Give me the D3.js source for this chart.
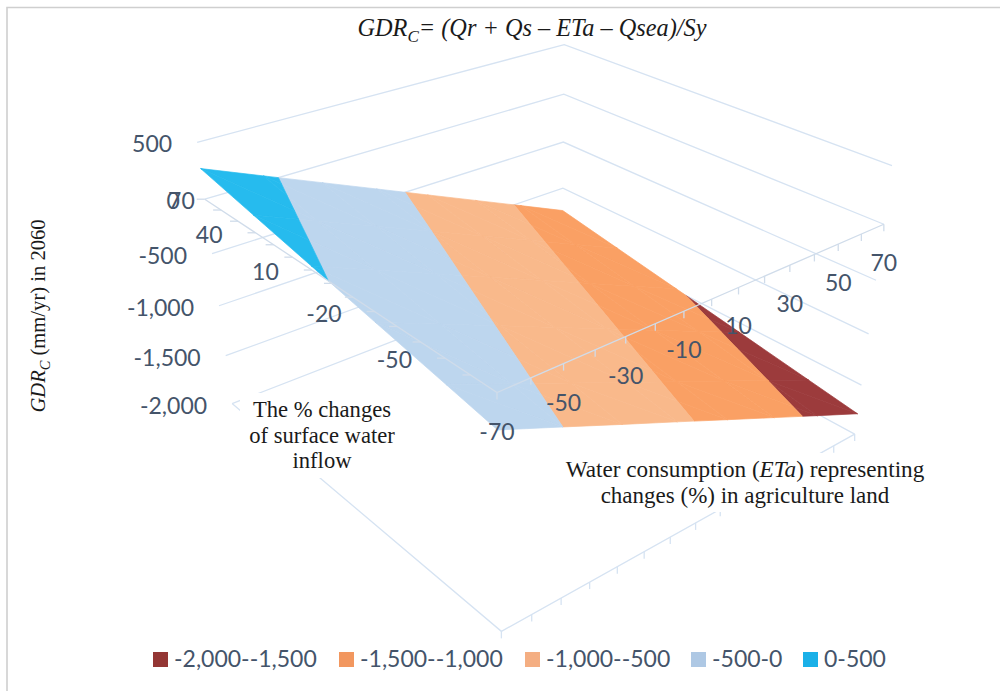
<!DOCTYPE html>
<html>
<head>
<meta charset="utf-8">
<script src="https://cdnjs.cloudflare.com/ajax/libs/d3/7.8.5/d3.min.js"></script>
<style>
  html, body { margin: 0; padding: 0; background: #fff; }
  svg { display: block; }
</style>
</head>
<body>
<div id="chart"></div>
<script>
const etaValues = [-70, -50, -30, -10, 10, 30, 50, 70];
const inflowValues = [70, 40, 10, -20, -50, -70];

// GDRc, one array per inflow row, one value per etaValues entry
const gdrInflow70 = [272, 54, -163, -380, -598, -815, -1032, -1250];
const gdrInflow40 = [152, -65, -281, -498, -716, -932, -1149, -1366];
const gdrInflow10 = [33, -183, -400, -616, -833, -1049, -1265, -1481];
const gdrInflowM20 = [-87, -302, -518, -734, -950, -1166, -1382, -1597];
const gdrInflowM50 = [-206, -421, -636, -852, -1068, -1283, -1498, -1713];
const gdrInflowM70 = [-286, -500, -716, -930, -1146, -1361, -1576, -1790];
const gdrRows = [gdrInflow70, gdrInflow40, gdrInflow10, gdrInflowM20, gdrInflowM50, gdrInflowM70];

const zTicks = [500, 0, -500, -1000, -1500, -2000];
const etaTicks = d3.range(-70, 71, 10);
const inflowTicks = d3.range(70, -71, -10);
const etaLabels = [-70, -50, -30, -10, 10, 30, 50, 70];
const inflowLabels = [70, 40, 10, -20, -50];

const bandNames = ["-2,000--1,500", "-1,500--1,000", "-1,000--500", "-500-0", "0-500"];
const bandLow = [-2000, -1500, -1000, -500, 0];
const bandHigh = [-1500, -1000, -500, 0, 500];
const surfaceColors = ["#9c3b3c", "#faa064", "#f9b98b", "#bdd6ee", "#26bbee"];
const legendColors = ["#943634", "#f2975f", "#f4ae82", "#aec8e4", "#1ab0e8"];

const width = 1000, height = 691;
const tickFont = "Lato, 'Open Sans', sans-serif";
const serifFont = "'Liberation Serif', serif";
const lineColor = "#d6e3f2";
const axisColor = "#d0dcea";
const textColor = "#44546a";

const xScale = d3.scaleLinear().domain([-70, 70]).range([0, 1]);
const yScale = d3.scaleLinear().domain([-70, 70]).range([0, 1]);
const zScale = d3.scaleLinear().domain([-2000, 500]).range([0, 1]);

// where the corners of the plot box land on the page: eta, inflow, z, px, py
const cameraFit = [
    [-70, 70, 500, 197, 142], [-70, 70, 0, 205, 199], [-70, 70, -500, 212, 253],
    [-70, 70, -1000, 219, 306], [-70, 70, -1500, 226, 356], [-70, 70, -2000, 232, 404],
    [70, 70, 500, 564, 45], [70, 70, 0, 564, 94], [70, 70, -500, 563, 142], [70, 70, -1000, 563, 188],
    [70, -70, 500, 892, 166], [70, -70, 0, 883, 224], [70, -70, -500, 877, 280],
    [70, -70, -1000, 869, 334], [70, -70, -1500, 862, 385], [70, -70, -2000, 854, 434],
    [-70, -70, 0, 497, 393], [-70, -70, -2000, 501, 631]
];

function solve(A, b) {
    const n = b.length;
    const m = A.map((row, i) => row.concat(b[i]));
    for (let c = 0; c < n; c++) {
        let p = c;
        for (let r = c + 1; r < n; r++) if (Math.abs(m[r][c]) > Math.abs(m[p][c])) p = r;
        [m[c], m[p]] = [m[p], m[c]];
        for (let r = 0; r < n; r++) {
            if (r === c) continue;
            const f = m[r][c] / m[c][c];
            for (let k = c; k <= n; k++) m[r][k] -= f * m[c][k];
        }
    }
    return m.map((row, i) => row[n] / row[i]);
}

// least squares fit of a perspective camera
function fitCamera(points) {
    const A = d3.range(11).map(() => d3.range(11).map(() => 0));
    const b = d3.range(11).map(() => 0);
    function addRow(row, rhs) {
        row.forEach((v, i) => {
            row.forEach((w, j) => { A[i][j] += v * w; });
            b[i] += v * rhs;
        });
    }
    points.forEach(p => {
        const X = xScale(p[0]), Y = yScale(p[1]), Z = zScale(p[2]);
        const u = p[3] / 1000, v = p[4] / 1000;
        addRow([X, Y, Z, 1, 0, 0, 0, 0, -u * X, -u * Y, -u * Z], u);
        addRow([0, 0, 0, 0, X, Y, Z, 1, -v * X, -v * Y, -v * Z], v);
    });
    return solve(A, b);
}
const cam = fitCamera(cameraFit);

function project(eta, inflow, z) {
    const X = xScale(eta), Y = yScale(inflow), Z = zScale(z);
    const w = cam[8] * X + cam[9] * Y + cam[10] * Z + 1;
    return [
        1000 * (cam[0] * X + cam[1] * Y + cam[2] * Z + cam[3]) / w,
        1000 * (cam[4] * X + cam[5] * Y + cam[6] * Z + cam[7]) / w
    ];
}

const line3d = d3.line();

const svg = d3.select("#chart")
    .append("svg")
    .attr("width", width)
    .attr("height", height);

// chart frame, only top and left show
svg.append("path")
    .attr("d", "M7,691V7.5H1000")
    .attr("fill", "none")
    .attr("stroke", "#cfcfcf")
    .attr("stroke-width", 1.6);

// back walls
svg.append("g").selectAll("path")
    .data(zTicks)
    .join("path")
    .attr("fill", "none")
    .attr("stroke", lineColor)
    .attr("stroke-width", 1.3)
    .attr("d", z => line3d([project(-70, 70, z), project(70, 70, z), project(70, -70, z)]));

// floor
svg.append("path")
    .attr("fill", "none")
    .attr("stroke", lineColor)
    .attr("stroke-width", 1.3)
    .attr("d", line3d([project(-70, 70, -2000), project(-70, -70, -2000), project(70, -70, -2000)]));

svg.append("g").selectAll("line")
    .data(etaTicks)
    .join("line")
    .attr("stroke", lineColor)
    .attr("stroke-width", 1.3)
    .attr("x1", d => project(d, -70, -2000)[0])
    .attr("x2", d => project(d, -70, -2000)[0])
    .attr("y1", d => project(d, -70, -2000)[1])
    .attr("y2", d => project(d, -70, -2000)[1] + 7);

// surface: cut each grid triangle into the value bands
function clipBelow(poly, level, keepAbove) {
    const out = [];
    poly.forEach((p, i) => {
        const q = poly[(i + 1) % poly.length];
        const pIn = keepAbove ? p[2] >= level : p[2] <= level;
        const qIn = keepAbove ? q[2] >= level : q[2] <= level;
        if (pIn) out.push(p);
        if (pIn !== qIn) {
            const t = (level - p[2]) / (q[2] - p[2]);
            out.push([p[0] + t * (q[0] - p[0]), p[1] + t * (q[1] - p[1]), level]);
        }
    });
    return out;
}

const triangles = [];
for (let r = 0; r < inflowValues.length - 1; r++) {
    for (let c = 0; c < etaValues.length - 1; c++) {
        const a = [etaValues[c], inflowValues[r], gdrRows[r][c]];
        const b = [etaValues[c + 1], inflowValues[r], gdrRows[r][c + 1]];
        const d = [etaValues[c], inflowValues[r + 1], gdrRows[r + 1][c]];
        const e = [etaValues[c + 1], inflowValues[r + 1], gdrRows[r + 1][c + 1]];
        triangles.push([a, b, e], [a, e, d]);
    }
}

const surfacePieces = [];
bandNames.forEach((name, i) => {
    triangles.forEach(t => {
        let poly = clipBelow(t, bandLow[i], true);
        if (poly.length) poly = clipBelow(poly, bandHigh[i], false);
        if (poly.length > 2) surfacePieces.push({ band: i, poly: poly });
    });
});

svg.append("g").selectAll("path")
    .data(surfacePieces)
    .join("path")
    .attr("fill", d => surfaceColors[d.band])
    .attr("stroke", d => surfaceColors[d.band])
    .attr("stroke-width", 0.7)
    .attr("stroke-linejoin", "round")
    .attr("d", d => line3d(d.poly.map(p => project(p[0], p[1], p[2]))) + "Z");

// category axes sit at z = 0 and show over the surface
svg.append("path")
    .attr("fill", "none")
    .attr("stroke", axisColor)
    .attr("stroke-width", 1.3)
    .attr("d", line3d([project(-70, 70, 0), project(-70, -70, 0), project(70, -70, 0)]));

svg.append("g").selectAll("line")
    .data(etaTicks)
    .join("line")
    .attr("stroke", axisColor)
    .attr("stroke-width", 1.3)
    .attr("x1", d => project(d, -70, 0)[0])
    .attr("x2", d => project(d, -70, 0)[0])
    .attr("y1", d => project(d, -70, 0)[1])
    .attr("y2", d => project(d, -70, 0)[1] + 7);

svg.append("g").selectAll("line")
    .data(inflowTicks.slice(0, -1))
    .join("line")
    .attr("stroke", axisColor)
    .attr("stroke-width", 1.3)
    .attr("x1", d => project(-70, d, 0)[0])
    .attr("x2", d => project(-70, d, 0)[0] - 8)
    .attr("y1", d => project(-70, d, 0)[1])
    .attr("y2", d => project(-70, d, 0)[1]);

const fmt = d3.formatLocale({ decimal: ".", thousands: ",", grouping: [3], currency: ["", ""], minus: "-" }).format(",");

// tick labels
svg.append("g").selectAll("text")
    .data(zTicks)
    .join("text")
    .attr("font-family", tickFont)
    .attr("font-size", 23)
    .attr("fill", textColor)
    .attr("text-anchor", "end")
    .attr("x", d => project(-70, 70, d)[0] - 25)
    .attr("y", d => project(-70, 70, d)[1] + 10)
    .text(d => fmt(d));

svg.append("g").selectAll("text")
    .data(inflowLabels)
    .join("text")
    .attr("font-family", tickFont)
    .attr("font-size", 23)
    .attr("fill", textColor)
    .attr("text-anchor", "end")
    .attr("x", d => project(-70, d, 0)[0] - (d === 70 ? 10 : 33))
    .attr("y", d => project(-70, d, 0)[1] + 10)
    .text(d => d);

svg.append("g").selectAll("text")
    .data(etaLabels)
    .join("text")
    .attr("font-family", tickFont)
    .attr("font-size", 23)
    .attr("fill", textColor)
    .attr("text-anchor", "middle")
    .attr("x", d => project(d, -70, 0)[0])
    .attr("y", d => project(d, -70, 0)[1] + 47)
    .text(d => d);

// axis titles sit in white boxes that hide the lines behind them
svg.append("rect").attr("x", 240).attr("y", 393).attr("width", 160).attr("height", 85).attr("fill", "#fff");
svg.append("rect").attr("x", 560).attr("y", 453).attr("width", 372).attr("height", 59).attr("fill", "#fff");

function serifText(x, y, size, parts, anchor) {
    const t = svg.append("text")
        .attr("x", x)
        .attr("y", y)
        .attr("font-family", serifFont)
        .attr("font-size", size)
        .attr("fill", "#1a1a1a")
        .attr("text-anchor", anchor || "middle");
    parts.forEach(p => {
        const s = t.append("tspan").text(p.text);
        if (p.italic) s.attr("font-style", "italic");
        if (p.sub) s.attr("font-size", size * 0.7).attr("dy", size * 0.25);
        if (p.up) s.attr("dy", -size * 0.25);
    });
    return t;
}

serifText(532, 36, 24.3, [
    { text: "GDR", italic: true },
    { text: "C", italic: true, sub: true },
    { text: "= (Qr + Qs – ETa – Qsea)/Sy", italic: true, up: true }
]);
serifText(322, 417, 22.6, [{ text: "The % changes" }]);
serifText(322, 443, 22.6, [{ text: "of surface water" }]);
serifText(322, 468, 22.6, [{ text: "inflow" }]);
serifText(745, 477, 23.2, [
    { text: "Water consumption (" },
    { text: "ETa", italic: true },
    { text: ") representing" }
]);
serifText(745, 503, 23, [{ text: "changes (%) in agriculture land" }]);

serifText(0, 0, 20.6, [
    { text: "GDR", italic: true },
    { text: "C", italic: true, sub: true },
    { text: " (mm/yr) in 2060", up: true }
]).attr("transform", "translate(45,316) rotate(-90)");

// legend
const legendX = [153, 339, 525, 691, 803];
const legend = svg.append("g").selectAll("g")
    .data(bandNames)
    .join("g")
    .attr("transform", (d, i) => `translate(${legendX[i]},652)`);

legend.append("rect")
    .attr("width", 15)
    .attr("height", 15)
    .attr("fill", (d, i) => legendColors[i]);

legend.append("text")
    .attr("x", 21)
    .attr("y", 15)
    .attr("font-family", tickFont)
    .attr("font-size", 23)
    .attr("fill", textColor)
    .text(d => d);
</script>
</body>
</html>
